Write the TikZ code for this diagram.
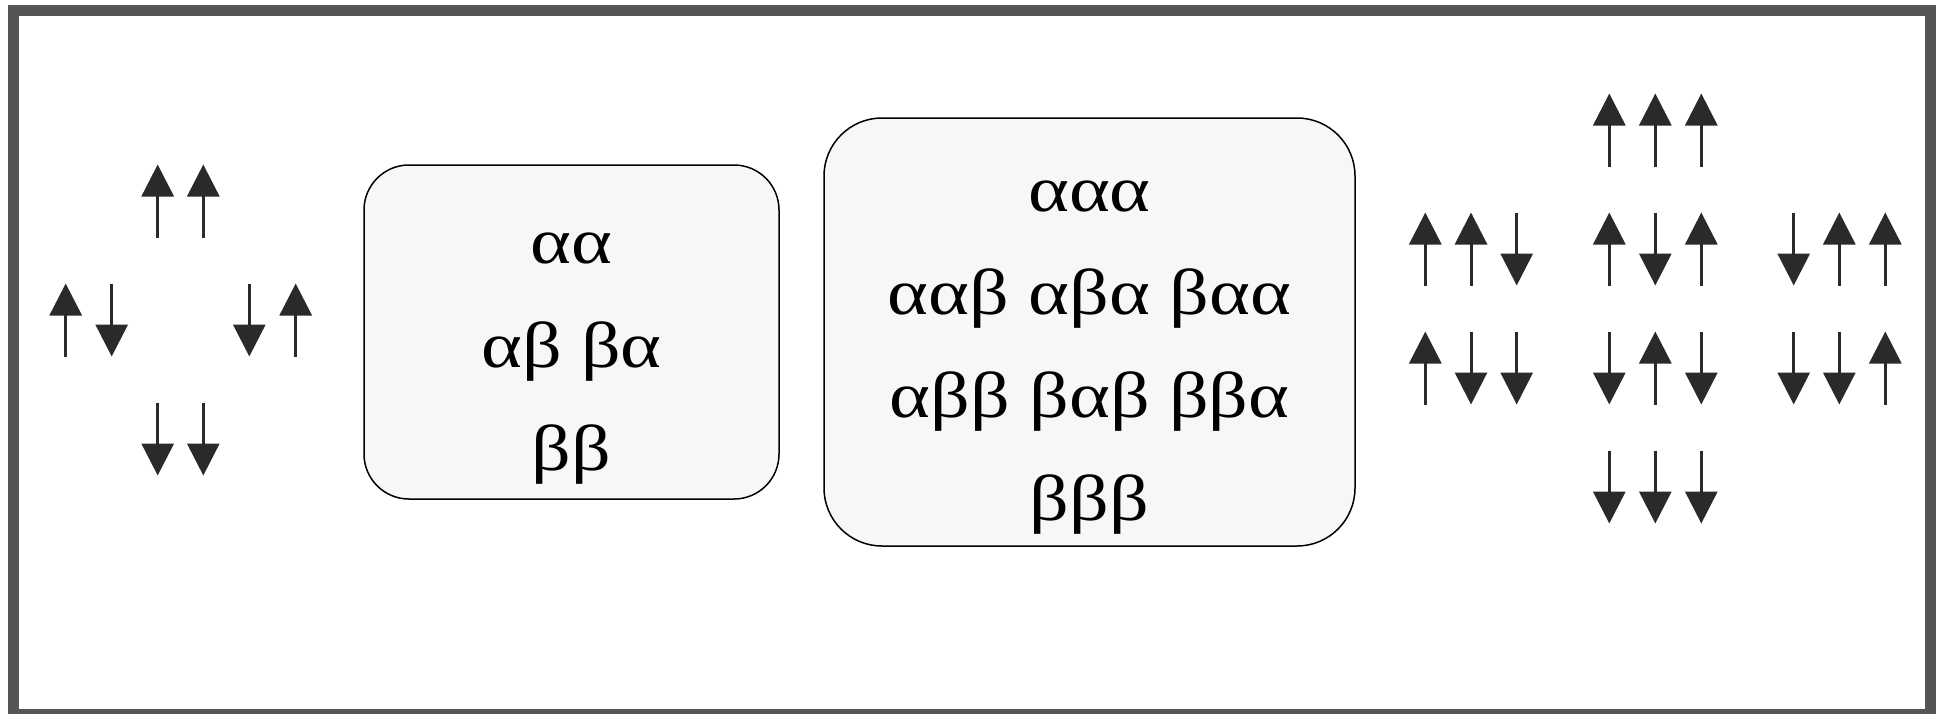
\documentclass[tikz,border=0pt]{standalone}
\usepackage{fontspec}
\usetikzlibrary{arrows.meta}
\newfontfamily\greekfont[FakeStretch=1.2]{Liberation Serif}
\definecolor{framegray}{HTML}{555555}
\definecolor{spingray}{HTML}{2A2A2A}
\definecolor{boxfill}{HTML}{F7F7F7}
\tikzset{
  spin/.style={draw=spingray, line width=3pt, -{Triangle[width=32pt,length=32pt]}, spingray},
  statebox/.style={draw=black, line width=1.5pt, fill=boxfill, rounded corners=#1, inner sep=0pt},
  gk/.style={anchor=base, inner sep=0pt, font=\greekfont\fontsize{65pt}{103pt}\selectfont},
}
\newcommand\upspin[2]{\draw[spin] (#1,#2+36.5) -- (#1,#2-36.5);}
\newcommand\downspin[2]{\draw[spin] (#1,#2-36.5) -- (#1,#2+36.5);}
\begin{document}
\begin{tikzpicture}[x=1pt,y=-1pt]
\useasboundingbox (0,0) rectangle (1943,713);
\fill[white] (0,0) rectangle (1943,713);
\draw[framegray, line width=11pt] (13.5,10.5) rectangle (1930.5,714.5);
% left spin pairs
\upspin{157.7}{201}\upspin{203.3}{201}
\upspin{65.7}{320}\downspin{111.7}{320}
\downspin{249.3}{320}\upspin{295.7}{320}
\downspin{157.7}{439}\downspin{203.3}{439}
% box 1
\draw[statebox=45pt] (364,165) rectangle (779,499);
\node[gk] (a1) at (571.5,263) {αα};
\node[gk] (a2) at (571.5,367) {αβ βα};
\node[gk] (a3) at (571.5,470) {ββ};
% box 2
\draw[statebox=58pt] (824,118) rectangle (1355,546);
\node[gk] (b1) at (1089.5,211) {ααα};
\node[gk] (b2) at (1089.5,314) {ααβ αβα βαα};
\node[gk] (b3) at (1089.5,417) {αββ βαβ ββα};
\node[gk] (b4) at (1089.5,520) {βββ};
% right spin triples
\upspin{1609.3}{130}\upspin{1655.3}{130}\upspin{1701.3}{130}
\upspin{1425.3}{249}\upspin{1471}{249}\downspin{1516.7}{249}
\upspin{1609.3}{249}\downspin{1655.3}{249}\upspin{1701.3}{249}
\downspin{1793.7}{249}\upspin{1839.3}{249}\upspin{1885.3}{249}
\upspin{1425.3}{368}\downspin{1471}{368}\downspin{1516.7}{368}
\downspin{1609.3}{368}\upspin{1655.3}{368}\downspin{1701.3}{368}
\downspin{1793.7}{368}\downspin{1839.3}{368}\upspin{1885.3}{368}
\downspin{1609.3}{487}\downspin{1655.3}{487}\downspin{1701.3}{487}
\end{tikzpicture}
\end{document}
